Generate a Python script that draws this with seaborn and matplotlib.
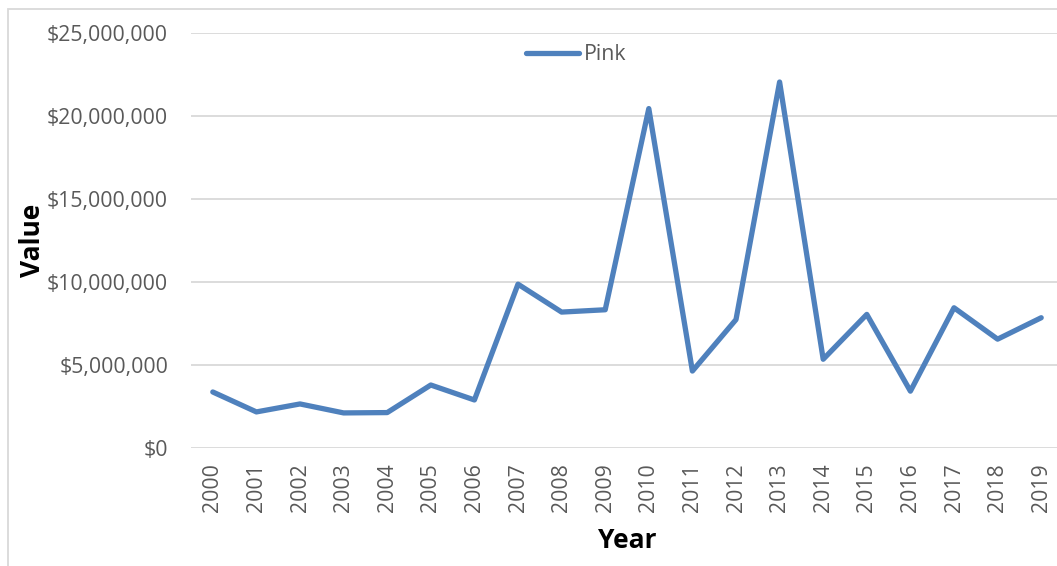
import matplotlib
matplotlib.use("Agg")
import matplotlib.pyplot as plt
from matplotlib.patches import Rectangle
from matplotlib.ticker import FuncFormatter
import seaborn as sns
import pandas as pd

# Annual value of the Pink series
years = [2000, 2001, 2002, 2003, 2004, 2005, 2006, 2007, 2008, 2009,
         2010, 2011, 2012, 2013, 2014, 2015, 2016, 2017, 2018, 2019]
pink_values = [3390000, 2190000, 2670000, 2130000, 2150000, 3810000, 2910000,
               9880000, 8200000, 8340000, 20450000, 4650000, 7750000, 22050000,
               5360000, 8060000, 3440000, 8460000, 6570000, 7860000]
series_name = "Pink"
y_ticks = [0, 5000000, 10000000, 15000000, 20000000, 25000000]

sns.set_style("white")
plt.rcParams["font.family"] = ["Open Sans", "DejaVu Sans"]

W, H = 1057, 566
fig = plt.figure(figsize=(W / 100, H / 100), dpi=100)

# outer chart frame
fig.patches.append(Rectangle((8 / W, -0.2), 1.5, 1.2 - 9 / H,
                             transform=fig.transFigure, fill=False,
                             edgecolor="#D9D9D9", linewidth=1.3, zorder=0))

left, right = 191, 1057
top, bottom = 33, 448.3
ax = fig.add_axes([left / W, (H - bottom) / H, (right - left) / W, (bottom - top) / H])

df = pd.DataFrame({"pos": range(len(years)), "value": pink_values, "series": series_name})
sns.lineplot(data=df, x="pos", y="value", hue="series", palette=["#4F81BD"],
             linewidth=3.8, ax=ax, solid_capstyle="round", solid_joinstyle="round")

step = 43.58
ax.set_xlim(-0.5, 19.5 - (1063 - right) / step)
ax.set_ylim(0, 25000000)
ax.set_yticks(y_ticks)
ax.yaxis.set_major_formatter(FuncFormatter(lambda v, p: "${:,.0f}".format(v)))
ax.set_xticks(range(len(years)))
ax.set_xticklabels([str(y) for y in years], rotation=90)

ax.grid(axis="y", color="#D9D9D9", linewidth=1.3)
ax.grid(axis="x", visible=False)
ax.set_axisbelow(True)
for s in ax.spines.values():
    s.set_visible(False)

ax.tick_params(axis="y", length=0, pad=16.5, labelsize=15.3, labelcolor="#595959")
ax.tick_params(axis="x", length=0, pad=11, labelsize=15.3, labelcolor="#595959")

ax.set_xlabel("")
ax.set_ylabel("")
fig.text(627 / W, 1 - 541 / H, "Year", ha="center", va="center",
         fontsize=19, fontweight="bold", color="black")
fig.text(33 / W, 1 - 240 / H, "Value", ha="center", va="center", rotation=90,
         fontsize=19, fontweight="bold", color="black")

handles, labels = ax.get_legend_handles_labels()
ax.legend(handles, labels, loc="center", bbox_to_anchor=(576 / W, 1 - 54.5 / H),
          bbox_transform=fig.transFigure, frameon=False, fontsize=15.3,
          handlelength=2.5, handletextpad=0.2, labelcolor="#595959")

fig.savefig("out.png", dpi=100)
